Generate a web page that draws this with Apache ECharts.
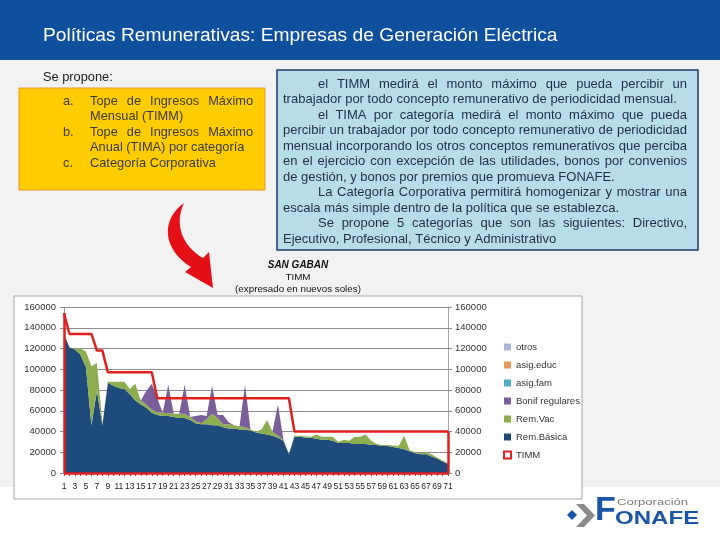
<!DOCTYPE html>
<html><head><meta charset="utf-8">
<script src="https://cdn.jsdelivr.net/npm/echarts@6/dist/echarts.min.js"></script>
<style>html,body{margin:0;padding:0;background:#fff}#c{width:720px;height:540px}</style>
</head><body><div id="c"></div>
<script>
// ---------------- data ----------------
const categories = ['1','2','3','4','5','6','7','8','9','10','11','12','13','14','15','16','17','18','19','20','21','22','23','24','25','26','27','28','29','30','31','32','33','34','35','36','37','38','39','40','41','42','43','44','45','46','47','48','49','50','51','52','53','54','55','56','57','58','59','60','61','62','63','64','65','66','67','68','69','70','71'];
const remBasica = [134000,121000,119000,114000,102000,46000,79000,46000,87000,84000,82000,81000,76000,70000,66000,63000,58000,56000,55000,55000,54000,53000,53000,51000,48000,47000,47000,46000,46000,44000,43000,43000,42000,42000,41000,39000,38000,37000,36000,34000,31000,18000,35000,35000,34000,34000,33000,32000,32000,31000,29000,29000,29000,28000,28000,28000,27000,27000,26000,26000,25000,24000,23000,21000,19000,18000,18000,16000,14000,11000,9000];
const remVac = [0,0,1000,6000,15000,57000,27000,2000,1000,4000,6000,7000,5000,16000,4000,3000,3000,2500,3000,2500,3000,4000,4000,3000,2000,1000,5000,11000,7000,3000,4000,3000,3000,2000,1000,1000,4000,14000,4000,2000,1000,0,1000,1000,1500,1000,4000,3000,3000,4000,1000,3000,2000,7000,7000,9000,4000,1000,1000,1000,1500,2000,13000,1000,1000,1000,2000,2000,1000,1000,1000];
const bonifRegulares = [0,0,0,0,0,0,0,0,0,0,0,0,0,0,0,13000,25000,13500,0,27500,0,0,28000,0,5000,8000,3000,27000,3000,9000,2000,0,0,41000,0,0,0,0,0,30000,0,0,0,0,0,0,0,0,0,0,0,0,0,0,0,0,0,0,0,0,0,0,0,0,0,0,0,0,0,0,0];
const asigFam = [];
const asigEduc = [];
const otros = [];
const timm = [154000,134000,134000,134000,134000,134000,118000,118000,97000,97000,97000,97000,97000,97000,97000,97000,97000,72000,72000,72000,72000,72000,72000,72000,72000,72000,72000,72000,72000,72000,72000,72000,72000,72000,72000,72000,72000,72000,72000,72000,72000,72000,40000,40000,40000,40000,40000,40000,40000,40000,40000,40000,40000,40000,40000,40000,40000,40000,40000,40000,40000,40000,40000,40000,40000,40000,40000,40000,40000,40000,40000];
const legendOrder = ['otros','asig.educ','asig.fam','Bonif regulares','Rem.Vac','Rem.Básica','TIMM'];

const slideTitle = 'Políticas Remunerativas: Empresas de Generación Eléctrica';
const chartTitle = ['SAN GABAN','TIMM','(expresado en nuevos soles)'];
const yellowItems = [
  ['a.', ['Tope de Ingresos Máximo','Mensual (TIMM)']],
  ['b.', ['Tope de Ingresos Máximo','Anual (TIMA) por categoría']],
  ['c.', ['Categoría Corporativa']]
];
// [text, indent, justify]
const blueLines = [
  ['el TIMM medirá el monto máximo que pueda percibir un', true, true],
  ['trabajador por todo concepto remunerativo de periodicidad mensual.', false, false],
  ['el TIMA por categoría medirá el monto máximo que pueda', true, true],
  ['percibir un trabajador por todo concepto remunerativo de periodicidad', false, true],
  ['mensual incorporando los otros conceptos remunerativos que perciba', false, true],
  ['en el ejercicio con excepción de las utilidades, bonos por convenios', false, true],
  ['de gestión, y bonos por premios que promueva FONAFE.', false, false],
  ['La Categoría Corporativa permitirá homogenizar y mostrar una', true, true],
  ['escala más simple dentro de la política que se establezca.', false, false],
  ['Se propone 5 categorías que son las siguientes: Directivo,', true, true],
  ['Ejecutivo, Profesional, Técnico y Administrativo', false, false]
];

// ---------------- helpers ----------------
const FF = "'Liberation Sans', Arial, sans-serif";
const mctx = document.createElement('canvas').getContext('2d');
function measure(t, font){ mctx.font = font; return mctx.measureText(t).width; }
function lineEls(text, x0, x1, y, font, color, justify){
  if(!justify) return [{type:'text', x:x0, y:y, style:{text:text, font:font, fill:color, verticalAlign:'middle'}}];
  const words = text.split(' ');
  const widths = words.map(w => measure(w, font));
  const total = widths.reduce((a,b)=>a+b,0);
  const gap = (x1 - x0 - total) / (words.length - 1);
  let x = x0; const els = [];
  words.forEach((w,i)=>{ els.push({type:'text', x:x, y:y, style:{text:w, font:font, fill:color, verticalAlign:'middle'}}); x += widths[i] + gap; });
  return els;
}
function bez(p0,p1,p2,p3,n){
  const pts=[];
  for(let k=0;k<=n;k++){const t=k/n,u=1-t;
    pts.push([u*u*u*p0[0]+3*u*u*t*p1[0]+3*u*t*t*p2[0]+t*t*t*p3[0], u*u*u*p0[1]+3*u*u*t*p1[1]+3*u*t*t*p2[1]+t*t*t*p3[1]]);}
  return pts;
}

const graphics = [];
graphics.push({type:'rect', shape:{x:0,y:60,width:720,height:427}, style:{fill:'#f2f2f2'}, z:-10});
graphics.push({type:'rect', shape:{x:0,y:0,width:720,height:60}, style:{fill:'#0e4f9e'}, z:-9});
const titleSize = 17 * 515 / measure(slideTitle, '17px ' + FF);
graphics.push({type:'text', x:43, y:36, style:{text:slideTitle, font:titleSize.toFixed(2)+'px '+FF, fill:'#ffffff', verticalAlign:'middle'}});
graphics.push({type:'text', x:43, y:77, style:{text:'Se propone:', font:'12.8px '+FF, fill:'#222', verticalAlign:'middle'}});

// yellow box
graphics.push({type:'rect', shape:{x:19,y:88,width:246,height:102}, style:{fill:'#ffcc00', stroke:'#e8962a', lineWidth:1}, z:-5});
const yFont = '12.8px ' + FF;
let yy = 101;
yellowItems.forEach(it=>{
  graphics.push({type:'text', x:63, y:yy, style:{text:it[0], font:yFont, fill:'#3a3a3a', verticalAlign:'middle'}});
  it[1].forEach((ln,j)=>{
    const just = (j===0 && it[1].length>1);
    lineEls(ln, 90, 253, yy, yFont, '#3a3a3a', just).forEach(e=>graphics.push(e));
    yy += 15.5;
  });
});

// blue text box
graphics.push({type:'rect', shape:{x:277,y:70,width:421,height:180}, style:{fill:'#b7dde8', stroke:'#1f3a6e', lineWidth:1.5}, z:-5});
const bFont = '13px ' + FF;
blueLines.forEach((b,i)=>{
  const y = 84 + i*15.5;
  lineEls(b[0], b[1]?318:283, 687, y, bFont, '#1f2d45', b[2]).forEach(e=>graphics.push(e));
});

// red curved arrow (polygon from bezier edges)
const arrowPts = []
  .concat(bez([184,203],[160,220],[163,250],[191,267],16))
  .concat([[185,272],[213,288],[209,252],[203,258]])
  .concat(bez([203,258],[182,246],[174,224],[184,203],16));
graphics.push({type:'polygon', shape:{points:arrowPts}, style:{fill:'#e31018'}});

// chart box
graphics.push({type:'rect', shape:{x:14,y:296,width:568,height:203}, style:{fill:'#ffffff', stroke:'#a6a6a6', lineWidth:1}, z:-4});
graphics.push({type:'text', x:298, y:265, style:{text:chartTitle[0], font:'italic bold 10px '+FF, fill:'#111', align:'center', verticalAlign:'middle'}});
graphics.push({type:'text', x:298, y:277, style:{text:chartTitle[1], font:'9.8px '+FF, fill:'#111', align:'center', verticalAlign:'middle'}});
graphics.push({type:'text', x:298, y:289, style:{text:chartTitle[2], font:'9.8px '+FF, fill:'#111', align:'center', verticalAlign:'middle'}});

// FONAFE logo
graphics.push({type:'polygon', shape:{points:[[576,504],[584,504],[595,515.5],[584,527],[576,527],[587,515.5]]}, style:{fill:'#8a8a8a'}});
graphics.push({type:'polygon', shape:{points:[[572,510],[577,515],[572,520],[567,515]]}, style:{fill:'#1a56a8'}});
graphics.push({type:'text', x:595, y:528, style:{text:'F', font:'bold 34px '+FF, fill:'#1a56a8', verticalAlign:'bottom'}});
graphics.push({type:'text', x:615, y:528, scaleX:1.3, style:{text:'ONAFE', font:'bold 18.5px '+FF, fill:'#1a56a8', verticalAlign:'bottom'}});
graphics.push({type:'text', x:617, y:503, scaleX:1.45, style:{text:'Corporación', font:'9px '+FF, fill:'#7a7a7a', verticalAlign:'middle'}});

// ---------------- chart ----------------
const RED = '#e0201f';
const areaSeries = (name, data, color) => ({
  name:name, type:'line', stack:'total', data:data, symbol:'none', smooth:false,
  lineStyle:{width:0, opacity:0}, areaStyle:{color:color, opacity:1}, itemStyle:{color:color}, z:2
});
const plain = v => String(v);

const chart = echarts.init(document.getElementById('c'), null, {renderer:'canvas'});
chart.setOption({
  backgroundColor:'#ffffff',
  animation:false,
  graphic:{elements:graphics},
  grid:{left:64, top:307, width:384, height:166, containLabel:false},
  legend:{
    orient:'vertical', left:503, top:341, padding:0, itemWidth:7, itemHeight:7, itemGap:6,
    textStyle:{fontSize:9.5, color:'#333', fontFamily:FF, lineHeight:12},
    data: legendOrder.map(n => n==='TIMM'
      ? {name:n, icon:'rect', itemStyle:{color:'#ffffff', borderColor:RED, borderWidth:2}}
      : {name:n, icon:'rect'})
  },
  xAxis:{
    type:'category', data:categories, boundaryGap:false,
    axisLine:{show:true, lineStyle:{color:'#999'}},
    axisTick:{show:true, interval:0, length:3, lineStyle:{color:'#b04040'}},
    axisLabel:{interval:1, fontSize:8.5, color:'#222', margin:9, fontFamily:FF},
    splitLine:{show:false}
  },
  yAxis:[
    {type:'value', min:0, max:160000, interval:20000, position:'left',
     axisLine:{show:true, lineStyle:{color:'#999'}},
     axisTick:{show:true, length:4, lineStyle:{color:'#888'}},
     axisLabel:{fontSize:9.5, color:'#333', margin:8, fontFamily:FF, formatter:plain},
     splitLine:{show:true, lineStyle:{color:'#8c8c8c', width:1}}},
    {type:'value', min:0, max:160000, interval:20000, position:'right',
     axisLine:{show:true, lineStyle:{color:'#a6a6a6'}},
     axisTick:{show:true, length:4, lineStyle:{color:'#888'}},
     axisLabel:{fontSize:9.5, color:'#333', margin:7, fontFamily:FF, formatter:plain},
     splitLine:{show:false}}
  ],
  series:[
    areaSeries('Rem.Básica', remBasica, '#1f4a7c'),
    areaSeries('Rem.Vac', remVac, '#8cae4e'),
    areaSeries('Bonif regulares', bonifRegulares, '#7a5e9c'),
    areaSeries('asig.fam', asigFam, '#4bacc6'),
    areaSeries('asig.educ', asigEduc, '#e39a5a'),
    areaSeries('otros', otros, '#a9b6d8'),
    {name:'TIMM', type:'line', data:timm, symbol:'none', z:5,
     lineStyle:{color:RED, width:2.5}, itemStyle:{color:RED},
     markLine:{silent:true, symbol:['none','none'], label:{show:false},
       lineStyle:{color:RED, width:2.5, type:'solid'},
       data:[
         [{coord:[categories[0],0]},{coord:[categories[0],timm[0]]}],
         [{coord:[categories[categories.length-1],0]},{coord:[categories[categories.length-1],timm[timm.length-1]]}],
         [{coord:[categories[0],0]},{coord:[categories[categories.length-1],0]}]
       ]}}
  ]
});
</script>
</body></html>
